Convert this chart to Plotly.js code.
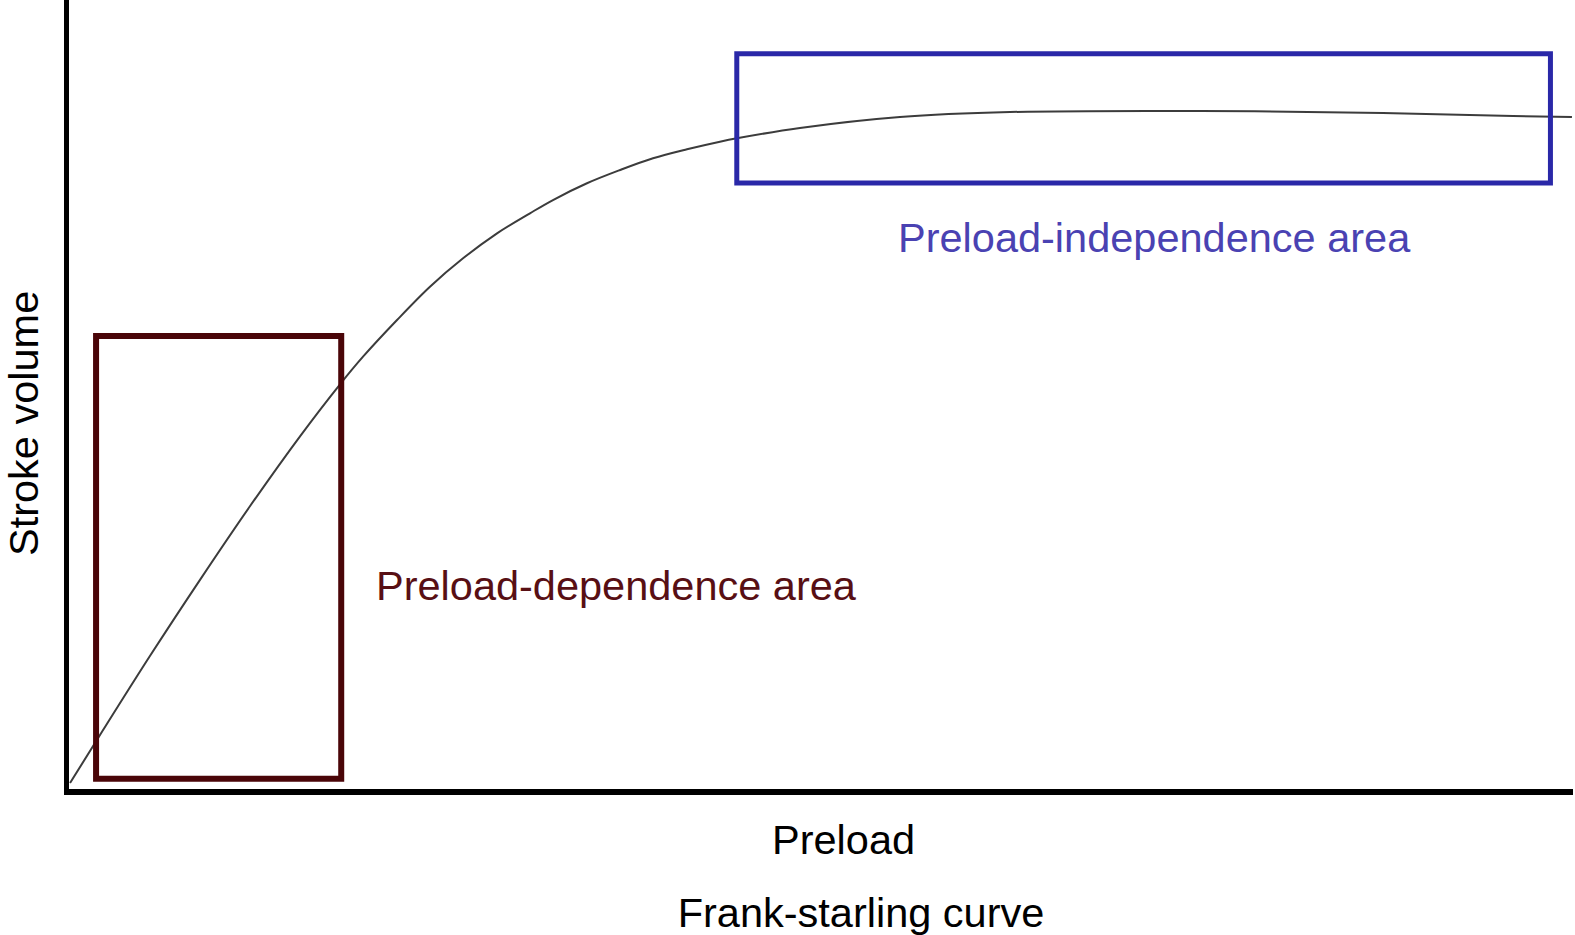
<!DOCTYPE html>
<html>
<head>
<meta charset="utf-8">
<script src="https://cdn.plot.ly/plotly-3.0.1.min.js"></script>
<style>
html, body { margin: 0; padding: 0; background: #ffffff; }
#chart { width: 1575px; height: 935px; }
</style>
</head>
<body>
<div id="chart"></div>
<script>
// Frank-Starling curve (arbitrary units, axes 0-100)
const preload = [0.07, 2.06, 5.39, 8.71, 12.03, 15.36, 18.02, 19.55, 21.81, 24.00, 26.20, 28.46, 30.65, 32.18, 34.44, 36.64, 38.83, 41.09, 43.28, 44.41, 48.60, 55.25, 62.57, 75.20, 87.37, 96.01, 99.93];
const strokeVolume = [0.76, 6.84, 16.88, 26.51, 35.83, 44.70, 51.29, 54.79, 59.44, 63.66, 67.26, 70.43, 72.97, 74.65, 76.77, 78.45, 79.94, 81.08, 82.04, 82.47, 83.78, 85.17, 85.80, 85.93, 85.68, 85.30, 85.17];

// Highlighted regions: [x0, x1, y0, y1]
const dependenceArea = [1.8, 18.1, 1.3, 57.4];
const independenceArea = [44.4, 98.5, 76.8, 93.2];

const labels = {
  dependence: 'Preload-dependence area',
  independence: 'Preload-independence area',
  xTitle: 'Preload',
  yTitle: 'Stroke volume',
  title: 'Frank-starling curve'
};

const FONT = 'Liberation Sans, Arial, Helvetica, sans-serif';
const FS = 41.5;

const trace = {
  x: preload,
  y: strokeVolume,
  type: 'scatter',
  mode: 'lines',
  line: { color: '#3c3c3c', width: 2, shape: 'spline', smoothing: 1.0 },
  hoverinfo: 'skip',
  showlegend: false
};

const layout = {
  width: 1575,
  height: 935,
  margin: { l: 69, r: 2, t: 0, b: 146 },
  paper_bgcolor: '#ffffff',
  plot_bgcolor: '#ffffff',
  showlegend: false,
  font: { family: FONT, color: '#000000', size: FS },
  title: {
    text: labels.title,
    x: 861 / 1575,
    xanchor: 'center',
    xref: 'container',
    y: 1 - 912 / 935,
    yanchor: 'middle',
    yref: 'container',
    font: { family: FONT, size: FS, color: '#000000' }
  },
  xaxis: {
    range: [0, 100],
    showline: true,
    linecolor: '#000000',
    linewidth: 6,
    showgrid: false,
    zeroline: false,
    showticklabels: false,
    ticks: '',
    fixedrange: true
  },
  yaxis: {
    range: [0, 100],
    showline: true,
    linecolor: '#000000',
    linewidth: 5,
    showgrid: false,
    zeroline: false,
    showticklabels: false,
    ticks: '',
    fixedrange: true
  },
  shapes: [
    {
      type: 'rect', xref: 'x', yref: 'y',
      x0: dependenceArea[0], x1: dependenceArea[1],
      y0: dependenceArea[2], y1: dependenceArea[3],
      line: { color: '#4a0508', width: 6 },
      fillcolor: 'rgba(0,0,0,0)'
    },
    {
      type: 'rect', xref: 'x', yref: 'y',
      x0: independenceArea[0], x1: independenceArea[1],
      y0: independenceArea[2], y1: independenceArea[3],
      line: { color: '#2a28a8', width: 5 },
      fillcolor: 'rgba(0,0,0,0)'
    }
  ],
  annotations: [
    {
      text: labels.independence,
      xref: 'x', yref: 'y', x: 72.2, y: 69.9,
      xanchor: 'center', yanchor: 'middle', showarrow: false,
      font: { family: FONT, size: FS, color: '#4a42b2' }
    },
    {
      text: labels.dependence,
      xref: 'x', yref: 'y', x: 20.3, y: 25.8,
      xanchor: 'left', yanchor: 'middle', showarrow: false,
      font: { family: FONT, size: FS, color: '#580f14' }
    },
    {
      text: labels.xTitle,
      xref: 'paper', yref: 'paper', x: (843 - 69) / 1504, y: (789 - 839) / 789,
      xanchor: 'center', yanchor: 'middle', showarrow: false,
      font: { family: FONT, size: FS, color: '#000000' }
    },
    {
      text: labels.yTitle,
      xref: 'paper', yref: 'paper', x: (23 - 69) / 1504, y: (789 - 424) / 789,
      xanchor: 'center', yanchor: 'middle', showarrow: false, textangle: -90,
      font: { family: FONT, size: FS, color: '#000000' }
    }
  ]
};

Plotly.newPlot('chart', [trace], layout, { displayModeBar: false, staticPlot: true });
</script>
</body>
</html>
